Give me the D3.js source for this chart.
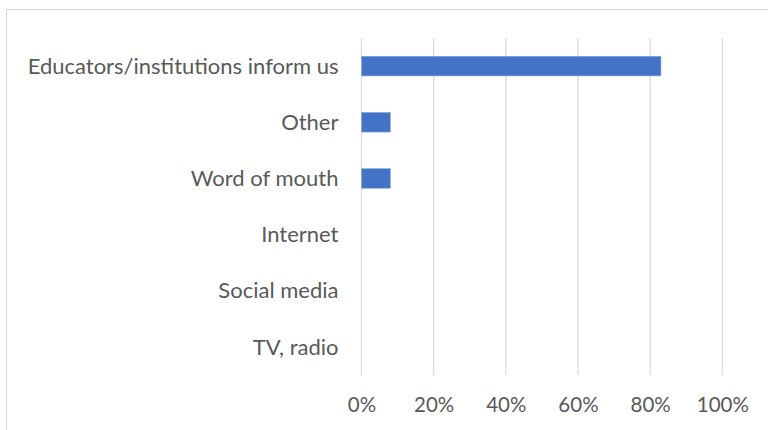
<!DOCTYPE html>
<html>
<head>
<meta charset="utf-8">
<script src="https://cdn.jsdelivr.net/npm/d3@7"></script>
<style>
  html, body { margin: 0; padding: 0; background: #fff; }
  svg { display: block; }
  text { font-family: Lato, "Open Sans", sans-serif; fill: #595959; }
</style>
</head>
<body>
<svg id="chart" width="768" height="430"></svg>
<script>
// Survey responses: how people learn about the programme
const categories = [
  "Educators/institutions inform us",
  "Other",
  "Word of mouth",
  "Internet",
  "Social media",
  "TV, radio"
];
const shares = [0.83, 0.08, 0.08, 0, 0, 0];
const tickValues = [0, 0.2, 0.4, 0.6, 0.8, 1.0];

const svg = d3.select("#chart");
const W = 768, H = 430;

// chart frame
svg.append("rect")
  .attr("x", 6.5).attr("y", 9.5)
  .attr("width", W + 20).attr("height", H + 20)
  .attr("fill", "none").attr("stroke", "#D9D9D9").attr("stroke-width", 1);

const plot = { left: 361.5, right: 722.3, top: 38, bottom: 375 };

const x = d3.scaleLinear().domain([0, 1]).range([plot.left, plot.right]);
const y = d3.scaleBand().domain(categories)
  .range([plot.top, plot.bottom])
  .paddingInner(0.65).paddingOuter(0.325);

// vertical gridlines
svg.append("g").selectAll("line")
  .data(tickValues)
  .join("line")
  .attr("x1", d => x(d)).attr("x2", d => x(d))
  .attr("y1", plot.top).attr("y2", plot.bottom)
  .attr("stroke", "#D9D9D9").attr("stroke-width", 1.2);

// bars
svg.append("g").selectAll("rect")
  .data(categories.map((c, i) => ({ c, v: shares[i] })).filter(d => d.v > 0))
  .join("rect")
  .attr("x", x(0))
  .attr("y", d => y(d.c))
  .attr("width", d => x(d.v) - x(0))
  .attr("height", y.bandwidth())
  .attr("fill", "#4472C4")
  .attr("stroke", "#8FAADC").attr("stroke-width", 0.6);

// category labels
const yAxis = d3.axisLeft(y).tickSize(0).tickPadding(0);
const gy = svg.append("g")
  .attr("transform", `translate(${plot.left - 23},0)`)
  .call(yAxis);
gy.select(".domain").remove();
gy.selectAll("text")
  .attr("font-size", 22)
  .attr("dy", "0.35em")
  .style("font-family", "Lato, 'Open Sans', sans-serif")
  .attr("fill", "#595959");

// value axis labels
const xAxis = d3.axisBottom(x).tickValues(tickValues)
  .tickFormat(d3.format(".0%")).tickSize(0).tickPadding(0);
const gx = svg.append("g")
  .attr("transform", `translate(0,${plot.bottom + 22})`)
  .call(xAxis);
gx.select(".domain").remove();
gx.selectAll("text")
  .attr("font-size", 20.5)
  .style("font-family", "Lato, 'Open Sans', sans-serif")
  .attr("fill", "#595959");
</script>
</body>
</html>
